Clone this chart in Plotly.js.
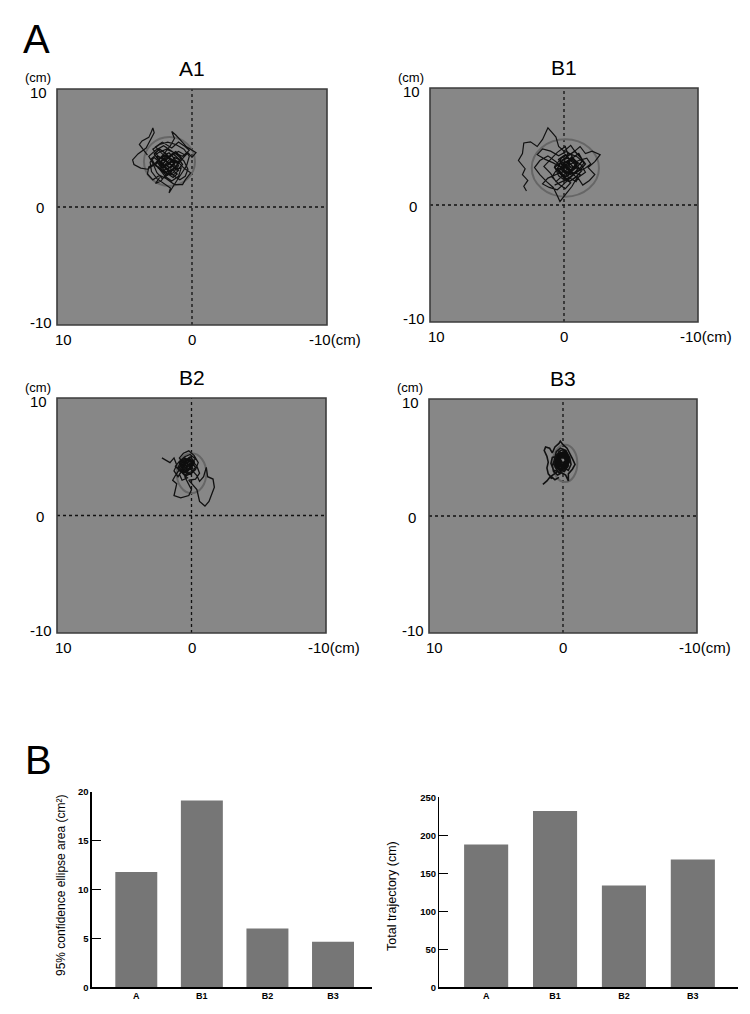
<!DOCTYPE html>
<html>
<head>
<meta charset="utf-8">
<script src="https://cdn.plot.ly/plotly-3.0.1.min.js"></script>
<style>html,body{margin:0;padding:0;background:#fff;}#chart{width:750px;height:1014px;}</style>
</head>
<body>
<div id="chart"></div>
<script>
// ---------------- DATA ----------------
const panelNames = ['A1', 'B1', 'B2', 'B3'];

// Centre-of-pressure trajectories (cm)
const a1X = [3.3,3.6,3.9,3.7,3.2,3.0,2.9,2.8,3.1,3.4,4.0,4.4,4.3,3.8,3.3,2.9,2.4,2.0,1.6,1.3,1.5,1.2,0.8,0.4,-0.3,0.0,0.3,0.8,1.2,1.7,2.2,2.6,2.9,3.2,2.7,2.1,1.6,1.1,0.6,0.3,0.5,0.9,1.3,1.8,2.3,2.8,3.1,3.0,2.6,2.1,1.6,1.7,1.5,1.2,0.8,0.4,0.2,0.6,1.2,1.8,2.4,2.9,2.5,1.9,1.4,1.0,1.4,2.0,2.5,2.2,1.6,1.0,0.5,0.9,1.5,2.0,2.6,3.2,3.3,2.9,2.4,1.9,1.3,0.7,0.5,0.1,0.6,1.1,1.7,2.2,2.7,2.2,1.5,1.0,0.6,0.2,0.7,1.3,1.9,2.5,3.0,2.7,2.1,1.6,1.2,1.8,2.4,2.0,1.5,1.0,0.8,1.4,1.9,2.3,2.7,2.4];
const a1Y = [4.4,4.9,5.3,5.6,5.9,6.4,6.7,6.3,5.6,5.0,4.5,4.0,3.6,3.3,3.2,3.5,4.1,4.6,5.2,5.8,6.4,6.1,5.6,5.1,4.6,4.2,4.6,4.0,3.4,2.8,2.4,2.9,3.7,4.3,4.8,5.2,4.8,4.4,3.9,3.2,2.6,2.3,2.6,3.2,3.7,4.2,3.8,3.0,2.4,2.0,1.6,1.2,1.6,2.1,2.8,3.5,4.3,4.9,5.3,5.5,5.3,4.9,4.3,3.9,3.5,3.1,2.7,2.9,3.3,4.0,4.3,4.7,4.4,3.8,3.9,3.5,3.8,3.4,2.8,2.3,2.7,2.4,1.9,1.9,2.3,2.9,3.3,3.9,4.1,4.5,5.1,5.5,5.0,5.5,5.2,4.8,4.3,4.6,4.9,4.6,4.1,3.5,3.1,3.4,3.9,3.7,3.2,2.6,2.2,2.6,3.3,3.2,2.8,2.2,2.0,2.5];
const a1CoreX = [1.8,1.5,1.9,2.3,2.0,1.6,1.2,1.5,1.9,2.4,2.7,2.3,1.9,1.4,1.0,1.3,1.7,2.2,2.6,2.2,1.7,1.3,0.9,1.2,1.7,2.1,2.5,2.8,2.4,1.9,1.5,1.1,0.8,1.2,1.6,2.0,2.4,2.0,1.5,1.1,1.4,1.9,2.3,1.9,1.4,1.0,0.7,1.1,1.6,2.1,2.6,2.3,1.8,1.3,1.6,2.0,1.6,1.2,1.7,2.2];
const a1CoreY = [3.6,4.0,4.3,3.9,3.4,3.0,3.4,3.9,4.4,4.1,3.6,3.1,2.7,2.9,3.5,4.1,4.6,4.3,3.8,3.3,3.6,4.2,4.0,3.4,3.0,3.4,4.0,4.5,4.9,4.5,4.0,3.7,4.2,4.7,4.4,3.8,3.3,2.9,3.2,2.8,2.5,2.9,3.5,4.0,4.5,4.1,3.6,3.1,3.6,4.1,4.3,3.7,3.2,3.7,4.1,3.6,3.3,3.8,4.2,3.9];

const b1X = [2.8,3.0,2.7,3.1,2.9,3.4,3.1,3.0,2.5,2.0,1.6,1.2,0.9,0.6,0.4,0.0,-0.5,-0.8,-1.2,-1.6,-2.1,-2.7,-2.3,-1.8,-2.3,-1.9,-1.4,-1.0,-0.6,-0.2,0.1,0.3,0.5,0.8,1.3,1.8,2.2,1.8,1.2,0.6,0.1,-0.5,-1.1,-1.5,-1.0,-0.4,0.2,0.7,0.4,-0.2,-0.7,-0.3,0.3,-0.3,-0.9,-0.6,0.0,0.6,1.0,1.5,1.0,0.5,-0.1,-0.3,0.1,-0.4,-1.0,-1.6,-1.3,-0.7,-0.1,0.4,0.0,-0.5,-0.1,0.4,0.9,0.5,-0.2,-0.8,-1.4,-2.0,-1.7,-1.1,-0.5,0.2,0.8,1.4,2.0,1.6,1.0,0.4,-0.2,-0.6,-0.2,0.3,-0.3,-0.9,-1.2,-0.6,0.0,0.6,1.2,1.6,1.1,0.5,0.0,-0.4,0.1,0.7];
const b1Y = [1.2,1.6,2.1,2.6,3.1,3.8,4.4,5.3,5.4,5.0,5.6,6.6,6.2,5.8,5.0,4.6,5.1,4.6,5.0,4.4,4.6,4.3,3.7,3.2,2.6,2.1,1.7,2.4,1.6,1.0,0.5,0.3,0.8,1.5,2.0,2.6,3.2,3.8,4.2,3.7,3.1,2.6,3.0,3.6,4.1,4.4,4.0,3.3,2.5,2.0,2.6,3.3,3.8,4.0,3.6,3.0,2.6,2.0,2.7,3.3,3.9,4.5,5.0,4.3,3.5,2.9,2.3,2.8,3.4,3.9,3.7,3.0,2.3,1.9,1.4,1.8,2.4,3.1,3.3,3.2,3.0,3.5,4.0,3.8,3.5,3.2,3.6,3.9,4.3,4.8,4.6,4.2,4.6,4.2,3.0,2.7,2.4,2.0,2.6,2.8,2.9,2.6,2.3,1.8,1.5,1.3,1.8,2.3,2.0,1.7];
const b1CoreX = [-0.5,-0.2,-0.6,-1.0,-0.7,-0.3,0.1,-0.2,-0.6,-1.1,-1.4,-1.0,-0.5,0.0,0.4,0.1,-0.4,-0.9,-1.3,-0.9,-0.4,0.0,0.5,0.2,-0.3,-0.8,-1.2,-1.6,-1.2,-0.7,-0.2,0.3,0.7,0.3,-0.2,-0.7,-1.1,-0.6,-0.1,0.4,0.0,-0.5,-1.0,-0.6,-0.2,0.2,-0.3,-0.8,-0.4,0.1];
const b1CoreY = [3.2,3.7,4.1,3.6,3.0,2.5,2.9,3.5,4.0,4.4,3.8,3.3,2.8,2.3,2.8,3.4,3.9,3.4,2.9,2.4,2.0,2.5,3.1,3.7,4.2,4.6,4.1,3.5,3.0,2.6,3.1,3.6,3.2,2.7,2.2,2.6,3.2,3.7,4.3,3.9,3.3,3.0,3.5,4.0,3.5,3.0,2.7,3.1,3.6,3.3];

const b2X = [2.2,1.9,1.6,1.3,1.1,1.3,1.0,0.7,0.4,0.1,-0.2,0.2,0.6,0.9,0.6,0.2,-0.2,-0.5,-0.3,0.1,0.5,0.9,1.2,1.4,1.1,1.2,1.3,0.8,0.2,0.0,0.3,0.5,0.2,-0.1,0.4,0.8,0.5,0.0,-0.4,-0.6,-0.3,0.2,-0.1,-0.4,-0.6,-1.0,-1.3,-1.7,-1.6,-1.2,-1.1,-0.9,-0.6,-0.4,0.0,0.3,0.7,1.0,0.6,0.3,0.7,0.9,0.5,0.1,-0.3,0.1,0.5,0.9,1.2,0.8,0.3,-0.2,0.2,0.6,0.3,-0.1,0.4,0.8,0.4];
const b2Y = [4.9,4.7,4.5,4.9,4.3,3.8,3.3,3.9,4.6,5.0,4.6,4.2,4.4,4.9,5.3,5.5,5.1,4.5,3.9,3.5,3.7,3.9,3.4,3.0,2.7,2.2,1.7,1.5,1.7,2.2,2.8,3.3,3.9,4.3,4.1,4.4,4.8,4.7,4.2,3.6,3.1,3.0,2.6,2.2,1.2,0.8,1.2,2.4,3.1,3.3,4.1,3.3,2.9,3.4,3.9,4.4,4.7,4.1,3.5,3.2,3.0,3.5,4.0,4.4,4.8,5.2,5.0,4.6,4.2,3.7,3.6,3.8,4.0,4.2,4.7,4.0,3.8,4.1,4.3];
const b2CoreX = [0.3,0.6,0.2,-0.1,0.3,0.7,0.9,0.5,0.1,-0.3,0.0,0.4,0.8,0.5,0.1,-0.2,0.2,0.6,0.9,0.6,0.2,-0.2,0.1,0.5,0.8,0.4,0.0,0.3,0.7,0.4];
const b2CoreY = [4.1,4.5,4.8,4.3,3.8,4.0,4.5,4.9,4.6,4.1,3.6,3.4,3.8,4.3,4.7,4.4,3.9,3.6,4.1,4.6,4.9,4.5,4.0,3.7,4.2,4.5,4.2,3.9,4.3,4.0];

const b3X = [1.5,1.2,1.0,0.8,1.1,1.2,1.1,1.2,1.4,1.3,1.0,0.8,0.6,0.3,0.2,0.0,-0.3,-0.5,-0.7,-0.9,-0.7,-0.4,-0.4,-0.2,0.1,0.4,0.7,0.8,0.6,0.3,0.0,-0.3,-0.5,-0.3,0.0,0.4,0.6,0.4,0.1,-0.2,-0.1,0.2,0.5,0.7,0.5,0.2,-0.2,-0.5,-0.6,-0.4,0.0,0.3,0.0,-0.3,0.1,0.4,0.2,-0.1,-0.4,-0.3,0.1,0.5,0.6,0.3,-0.1,0.2,0.5,0.8,0.9,0.7,0.4,0.9,0.6,0.3];
const b3Y = [2.7,3.0,3.3,3.2,3.6,4.1,4.6,5.1,5.6,5.9,5.8,5.4,5.9,6.2,6.4,6.1,5.8,5.4,4.9,4.4,4.0,3.6,3.0,3.5,3.7,3.5,3.8,4.3,4.9,5.5,5.7,5.2,4.7,4.2,3.9,4.1,4.6,5.2,5.4,4.9,4.4,4.3,4.0,4.5,5.5,5.8,5.6,5.0,4.4,3.9,4.2,4.8,5.1,4.6,4.6,4.4,3.9,3.8,4.3,5.0,5.0,4.8,4.2,3.7,4.1,4.6,5.1,5.0,4.5,3.9,3.8,3.4,3.1,3.3];
const b3CoreX = [0.1,0.4,0.2,-0.2,-0.4,-0.1,0.3,0.5,0.2,-0.2,-0.4,0.0,0.4,0.5,0.1,-0.3,-0.2,0.2,0.5,0.3,-0.1,-0.4,-0.2,0.2,0.4,0.0,-0.3,0.1,0.4,0.1];
const b3CoreY = [4.6,5.0,5.4,5.2,4.7,4.2,4.0,4.5,5.0,5.5,5.0,4.4,4.2,4.8,5.3,4.9,4.3,3.9,4.3,4.9,5.3,4.8,4.1,4.4,5.1,5.4,4.6,4.2,4.6,4.8];

// 95% confidence ellipses: centre and half-axes (cm)
const ellipseCX = [1.67, -0.10, 0.00, -0.15];
const ellipseCY = [3.86, 3.16, 3.60, 4.50];
const ellipseRX = [1.89, 2.51, 1.10, 0.92];
const ellipseRY = [2.08, 2.45, 1.70, 1.60];

// Axis tick labels of the trajectory panels
const xTickLabels = ['10', '0', '-10(cm)'];
const yTickLabels = ['10', '0', '-10'];
const unitLabel = '(cm)';

// Panel B bar charts
const groups = ['A', 'B1', 'B2', 'B3'];
const ellipseArea = [11.8, 19.1, 6.0, 4.65];
const totalTrajectory = [188, 232, 134, 168];
const areaTicks = [0, 5, 10, 15, 20];
const trajTicks = [0, 50, 100, 150, 200, 250];
const areaTitle = '95% confidence ellipse area (cm²)';
const trajTitle = 'Total trajectory (cm)';
const sectionLabels = ['A', 'B'];

// ---------------- LAYOUT HELPERS ----------------
const W = 750, H = 1014;
const FONT = 'Liberation Sans, Arial, Helvetica, sans-serif';
const fx = p => p / W;
const fy = p => 1 - p / H;

// pixel boxes [left, top, right, bottom]
const boxes = [[57, 89, 327, 325], [430, 88, 698, 322], [57, 398, 326, 633], [429, 399, 697, 633]];
const trajX = [a1X, b1X, b2X, b3X];
const trajY = [a1Y, b1Y, b2Y, b3Y];
const coreX = [a1CoreX, b1CoreX, b2CoreX, b3CoreX];
const coreY = [a1CoreY, b1CoreY, b2CoreY, b3CoreY];
const lineW = [1.2, 1.2, 1.3, 1.6];
const coreW = [1.3, 1.4, 1.5, 2.4];

const data = [];
const layout = {
  width: W, height: H,
  margin: {l: 0, r: 0, t: 0, b: 0},
  paper_bgcolor: '#ffffff',
  plot_bgcolor: 'rgba(0,0,0,0)',
  showlegend: false,
  hovermode: false,
  font: {family: FONT, color: '#000'},
  shapes: [],
  annotations: []
};

function ann(text, x, y, size, xa, ya, extra) {
  layout.annotations.push(Object.assign({
    text: text, x: fx(x), y: fy(y), xref: 'paper', yref: 'paper',
    xanchor: xa || 'center', yanchor: ya || 'middle', showarrow: false, borderpad: 0,
    font: {family: FONT, size: size, color: '#000'}
  }, extra || {}));
}

boxes.forEach((b, i) => {
  const n = i + 1;
  const xa = 'xaxis' + (n === 1 ? '' : n), ya = 'yaxis' + (n === 1 ? '' : n);
  const xr = 'x' + (n === 1 ? '' : n), yr = 'y' + (n === 1 ? '' : n);
  layout[xa] = {domain: [fx(b[0]), fx(b[2])], range: [10, -10], anchor: yr,
    showgrid: false, zeroline: false, showline: false, showticklabels: false, ticks: '', fixedrange: true};
  layout[ya] = {domain: [fy(b[3]), fy(b[1])], range: [-10, 10], anchor: xr,
    showgrid: false, zeroline: false, showline: false, showticklabels: false, ticks: '', fixedrange: true};
  layout.shapes.push({type: 'rect', xref: xr + ' domain', yref: yr + ' domain', x0: 0, x1: 1, y0: 0, y1: 1,
    fillcolor: '#878787', line: {width: 0}, layer: 'below'});
  layout.shapes.push({type: 'line', xref: xr, yref: yr + ' domain', x0: 0, x1: 0, y0: 0, y1: 1,
    line: {color: '#111', width: 1.3, dash: 'dot'}, layer: 'below'});
  layout.shapes.push({type: 'line', xref: xr + ' domain', yref: yr, x0: 0, x1: 1, y0: 0, y1: 0,
    line: {color: '#111', width: 1.3, dash: 'dot'}, layer: 'below'});
  layout.shapes.push({type: 'circle', xref: xr, yref: yr,
    x0: ellipseCX[i] - ellipseRX[i], x1: ellipseCX[i] + ellipseRX[i],
    y0: ellipseCY[i] - ellipseRY[i], y1: ellipseCY[i] + ellipseRY[i],
    line: {color: '#666666', width: 2}, layer: 'below'});
  layout.shapes.push({type: 'rect', xref: xr + ' domain', yref: yr + ' domain', x0: 0, x1: 1, y0: 0, y1: 1,
    fillcolor: 'rgba(0,0,0,0)', line: {color: '#3c3c3c', width: 1.6}, layer: 'above'});
  data.push({type: 'scatter', mode: 'lines', x: trajX[i], y: trajY[i], xaxis: xr, yaxis: yr,
    line: {color: '#111111', width: lineW[i]}, hoverinfo: 'skip'});
  data.push({type: 'scatter', mode: 'lines', x: coreX[i], y: coreY[i], xaxis: xr, yaxis: yr,
    line: {color: '#0d0d0d', width: coreW[i]}, hoverinfo: 'skip'});
  const cx = (b[0] + b[2]) / 2, cy = (b[1] + b[3]) / 2;
  ann(panelNames[i], cx, b[1] - 21, 21, 'center', 'middle');
  ann(unitLabel, b[0] - 19, b[1] - 11, 13, 'center', 'middle');
  ann(yTickLabels[0], b[0] - 9, b[1] + 3, 15, 'right', 'middle');
  ann(yTickLabels[1], b[0] - 12, cy + 1, 15, 'right', 'middle');
  ann(yTickLabels[2], b[0] - 4, b[3] - 3, 15, 'right', 'middle');
  ann(xTickLabels[0], b[0] + 6, b[3] + 14, 15, 'center', 'middle');
  ann(xTickLabels[1], cx, b[3] + 14, 15, 'center', 'middle');
  ann(xTickLabels[2], b[2] - 19, b[3] + 14, 15, 'left', 'middle');
});

ann(sectionLabels[0], 22, 39, 40, 'left', 'middle');
ann(sectionLabels[1], 24, 760, 40, 'left', 'middle');

const barBoxes = [[91.7, 791.7, 371.7, 987.3], [439.3, 797.3, 738.3, 987.3]];
const barVals = [ellipseArea, totalTrajectory];
const barTicks = [areaTicks, trajTicks];
const barRanges = [[-0.68, 3.59], [-0.68, 3.66]];
barBoxes.forEach((b, k) => {
  const n = 5 + k;
  const xr = 'x' + n, yr = 'y' + n;
  layout['xaxis' + n] = {domain: [fx(b[0]), fx(b[2])], range: barRanges[k], anchor: yr, type: 'category',
    showgrid: false, zeroline: false, showline: true, linecolor: '#000', linewidth: 1.3, ticks: '',
    tickfont: {family: FONT, size: 9, color: '#000', weight: 'bold'}, fixedrange: true};
  layout['yaxis' + n] = {domain: [fy(b[3]), fy(b[1])], range: [0, barTicks[k][barTicks[k].length - 1]], anchor: xr,
    tickvals: barTicks[k], showgrid: false, zeroline: false, showline: true, linecolor: '#000', linewidth: 1.3,
    ticks: 'inside', ticklen: 9, tickcolor: '#000', tickwidth: 1.2,
    tickfont: {family: FONT, size: 9.5, color: '#000', weight: 'bold'}, fixedrange: true};
  data.push({type: 'bar', x: groups, y: barVals[k], xaxis: xr, yaxis: yr, width: 0.64,
    marker: {color: '#767676', line: {width: 0}}, hoverinfo: 'skip'});
});
ann(areaTitle, 61, 885, 12, 'center', 'middle', {textangle: -90});
ann(trajTitle, 392, 896, 12.5, 'center', 'middle', {textangle: -90});

Plotly.newPlot('chart', data, layout, {staticPlot: true, displayModeBar: false});
</script>
</body>
</html>
